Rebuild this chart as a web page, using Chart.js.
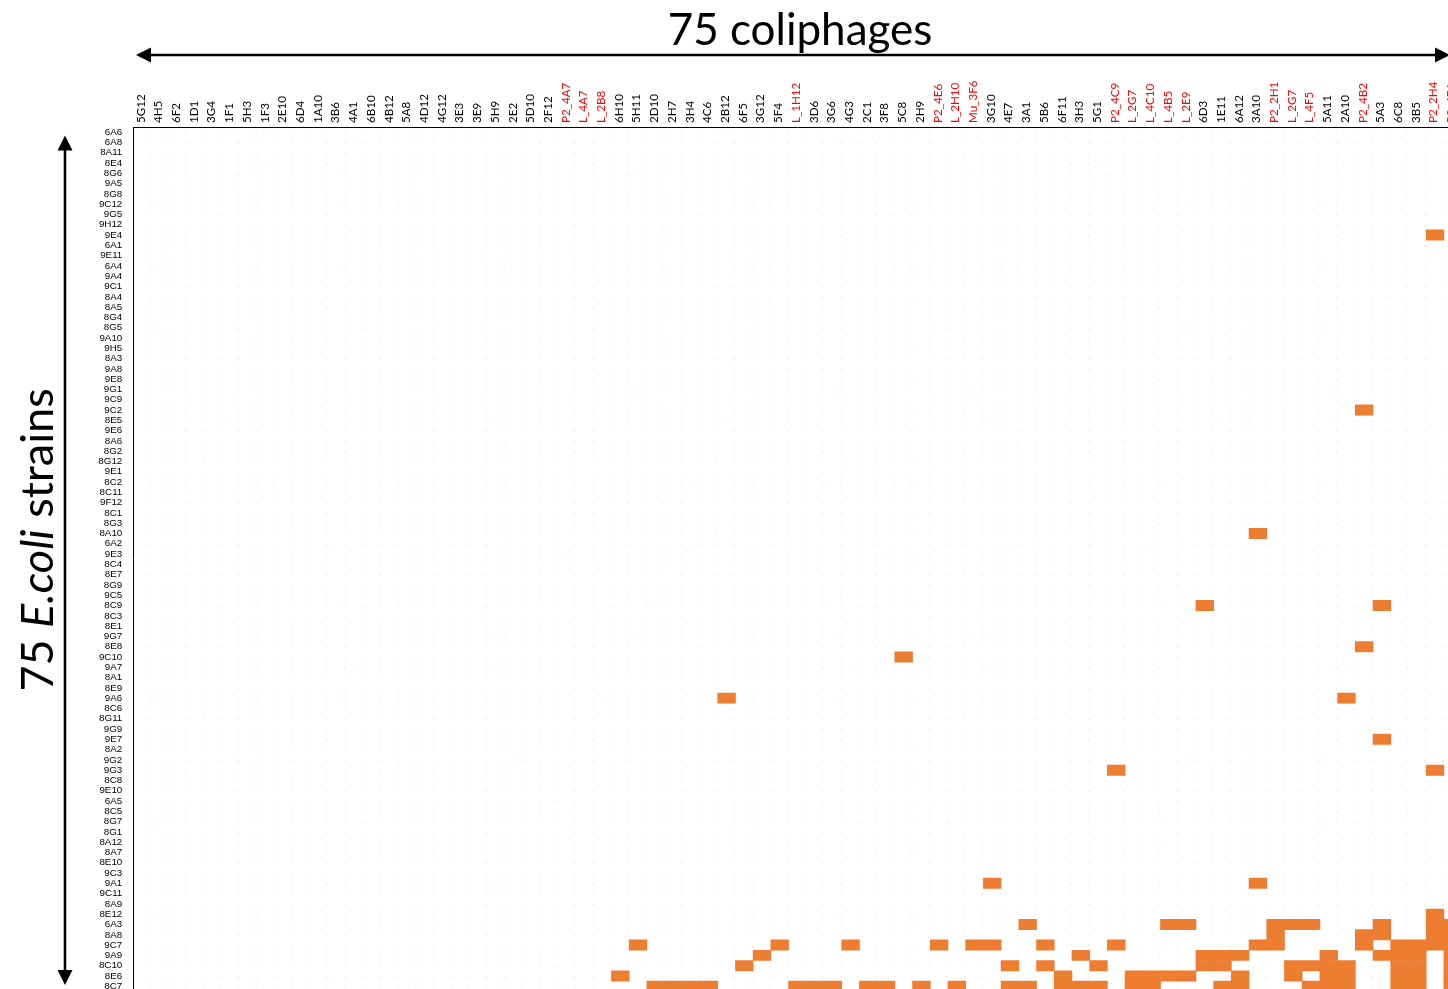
<!DOCTYPE html>
<html>
<head>
<meta charset="utf-8">
<style>
html, body { margin: 0; padding: 0; overflow: hidden; background: #ffffff; width: 1448px; height: 989px; }
#wrap { position: absolute; left: 0; top: 0; width: 1470px; height: 1000px; }
canvas { display: block; }
</style>
<script src="https://cdn.jsdelivr.net/npm/chart.js@4.4.1/dist/chart.umd.min.js"></script>
</head>
<body>
<div id="wrap"><canvas id="c" width="1470" height="1000" style="width:1470px;height:1000px"></canvas></div>
<script>
// ---- Tick labels: coliphages (columns) ----
const phages = ['5G12','4H5','6F2','1D1','3G4','1F1','5H3','1F3','2E10','6D4','1A10','3B6','4A1','6B10','4B12','5A8','4D12','4G12','3E3','3E9','5H9','2E2','5D10','2F12','P2_4A7','L_4A7','L_2B8','6H10','5H11','2D10','2H7','3H4','4C6','2B12','6F5','3G12','5F4','L_1H12','3D6','3G6','4G3','2C1','3F8','5C8','2H9','P2_4E6','L_2H10','Mu_3F6','3G10','4E7','3A1','5B6','6F11','3H3','5G1','P2_4C9','L_2G7','L_4C10','L_4B5','L_2E9','6D3','1E11','6A12','3A10','P2_2H1','L_2G7','L_4F5','5A11','2A10','P2_4B2','5A3','6C8','3B5','P2_2H4','P2_4F4'];

// ---- Tick labels: E. coli strains (rows) ----
const strains = ['6A6','6A8','8A11','8E4','8G6','9A5','8G8','9C12','9G5','9H12','9E4','6A1','9E11','6A4','9A4','9C1','8A4','8A5','8G4','8G5','9A10','9H5','8A3','9A8','9E8','9G1','9C9','9C2','8E5','9E6','8A6','8G2','8G12','9E1','8C2','8C11','9F12','8C1','8G3','8A10','6A2','9E3','8C4','8E7','8G9','9C5','8C9','8C3','8E1','9G7','8E8','9C10','9A7','8A1','8E9','9A6','8C6','8G11','9G9','9E7','8A2','9G2','9G3','8C8','9E10','6A5','8C5','8G7','8G1','8A12','8A7','8E10','9C3','9A1','9C11','8A9','8E12','6A3','8A8','9C7','9A9','8C10','8E6','8C7'];

// ---- Lysis results: strains with at least one infecting phage, and the
//      1-based column numbers (into `phages`) of those phages ----
const lysedStrains = ['9E4','9C2','8A10','8C9','8E8','9C10','9A6','9E7','9G3','9A1','8E12','6A3','8A8','9C7','9A9','8C10','8E6','8C7'];
const lysingColumns = [
  [74],
  [70],
  [64],
  [61, 71],
  [70],
  [44],
  [34, 69],
  [71],
  [56, 74],
  [49, 64],
  [74],
  [51, 59, 60, 65, 66, 67, 71, 74, 75],
  [65, 70, 71, 74, 75],
  [29, 37, 41, 46, 48, 49, 52, 56, 64, 65, 70, 72, 73, 74, 75],
  [36, 54, 61, 62, 63, 68, 71, 72, 73, 75],
  [35, 50, 52, 55, 61, 62, 66, 67, 68, 69, 72, 73, 75],
  [28, 53, 57, 58, 59, 60, 63, 66, 68, 69, 72, 73, 75],
  [30, 31, 32, 33, 38, 39, 40, 42, 43, 45, 47, 50, 51, 53, 54, 55, 57, 58, 62, 63, 67, 68, 69, 72, 73, 75]
];

// Build heatmap cells as floating bars [col-1, col] on each strain row
const cells = [];
lysedStrains.forEach((s, i) => {
  lysingColumns[i].forEach(c => cells.push({ y: s, x: [c - 1, c] }));
});

const isRed = name => /^(P2_|L_|Mu_)/.test(name);

// faint background dots (drawn from scale positions)
const dotsPlugin = {
  id: 'dots',
  beforeDatasetsDraw(chart) {
    const { ctx, scales: { x, y } } = chart;
    ctx.save();
    for (let r = 0; r < strains.length; r++) {
      const py = y.getPixelForValue(r);
      ctx.fillStyle = (r % 3 === 1) ? 'rgba(237,125,49,0.22)' : 'rgba(150,150,150,0.22)';
      for (let c = 1; c < phages.length; c++) {
        const px = x.getPixelForValue(c);
        ctx.fillRect(px - 1.6, py, 1.3, 1.3);
      }
    }
    ctx.restore();
  }
};

function arrowHead(ctx, tx, ty, dx, dy) {
  const len = 15, half = 7.5;
  const bx = tx - dx * len, by = ty - dy * len;
  ctx.beginPath();
  ctx.moveTo(tx, ty);
  ctx.lineTo(bx - dy * half, by + dx * half);
  ctx.lineTo(bx + dy * half, by - dx * half);
  ctx.closePath();
  ctx.fill();
}

const decorPlugin = {
  id: 'decor',
  afterDraw(chart) {
    const ctx = chart.ctx;
    ctx.save();
    ctx.fillStyle = '#000';
    ctx.strokeStyle = '#000';
    ctx.lineWidth = 2.6;
    // horizontal double arrow
    ctx.beginPath(); ctx.moveTo(146, 55); ctx.lineTo(1440, 55); ctx.stroke();
    arrowHead(ctx, 136, 55, -1, 0);
    arrowHead(ctx, 1450, 55, 1, 0);
    // vertical double arrow
    ctx.beginPath(); ctx.moveTo(65, 146); ctx.lineTo(65, 975); ctx.stroke();
    arrowHead(ctx, 65, 135.5, 0, -1);
    arrowHead(ctx, 65, 985, 0, 1);
    // top title
    ctx.font = '44px Lato';
    ctx.textAlign = 'center';
    ctx.textBaseline = 'alphabetic';
    ctx.fillText('75 coliphages', 800, 45);
    // left title (rotated) with italic species name
    ctx.translate(53, 540);
    ctx.rotate(-Math.PI / 2);
    ctx.textAlign = 'left';
    const parts = [['75 ', '45px Lato'], ['E.coli', 'italic 45px Lato'], [' strains', '45px Lato']];
    let total = 0;
    parts.forEach(p => { ctx.font = p[1]; total += ctx.measureText(p[0]).width; });
    let px = -total / 2;
    parts.forEach(p => { ctx.font = p[1]; ctx.fillText(p[0], px, 0); px += ctx.measureText(p[0]).width; });
    ctx.restore();
  }
};

new Chart(document.getElementById('c'), {
  type: 'bar',
  data: {
    datasets: [{
      data: cells,
      backgroundColor: '#ED7D31',
      borderWidth: 0,
      borderSkipped: false,
      barPercentage: 1,
      categoryPercentage: 1
    }]
  },
  options: {
    indexAxis: 'y',
    responsive: false,
    animation: false,
    devicePixelRatio: 1,
    layout: { padding: { left: 0, top: 0, right: 8.4, bottom: 8.6 } },
    plugins: { legend: { display: false }, tooltip: { enabled: false }, title: { display: false } },
    scales: {
      x: {
        type: 'linear',
        position: 'top',
        min: 0,
        max: phages.length,
        grid: { display: false, drawTicks: false },
        border: { display: true, color: '#000', width: 1 },
        afterBuildTicks: s => { s.ticks = phages.map((p, i) => ({ value: i + 0.5 })); },
        afterFit: s => { s.height = 127; s.paddingLeft = 0; s.paddingRight = 0; },
        ticks: {
          autoSkip: false,
          maxRotation: 90,
          minRotation: 90,
          padding: 4,
          labelOffset: 12.6,
          font: { family: 'Lato', size: 11.6 },
          color: c => isRed(phages[c.index]) ? '#FF0000' : '#000000',
          callback: (v, i) => phages[i]
        }
      },
      y: {
        type: 'category',
        labels: strains,
        offset: true,
        grid: { display: false, drawTicks: false },
        border: { display: true, color: '#000', width: 1 },
        afterFit: s => { s.width = 133.3; s.paddingTop = 0; s.paddingBottom = 0; },
        ticks: {
          autoSkip: false,
          padding: 11,
          font: { family: 'Liberation Sans', size: 9.8 },
          color: '#000000'
        }
      }
    }
  },
  plugins: [dotsPlugin, decorPlugin]
});
</script>
</body>
</html>
